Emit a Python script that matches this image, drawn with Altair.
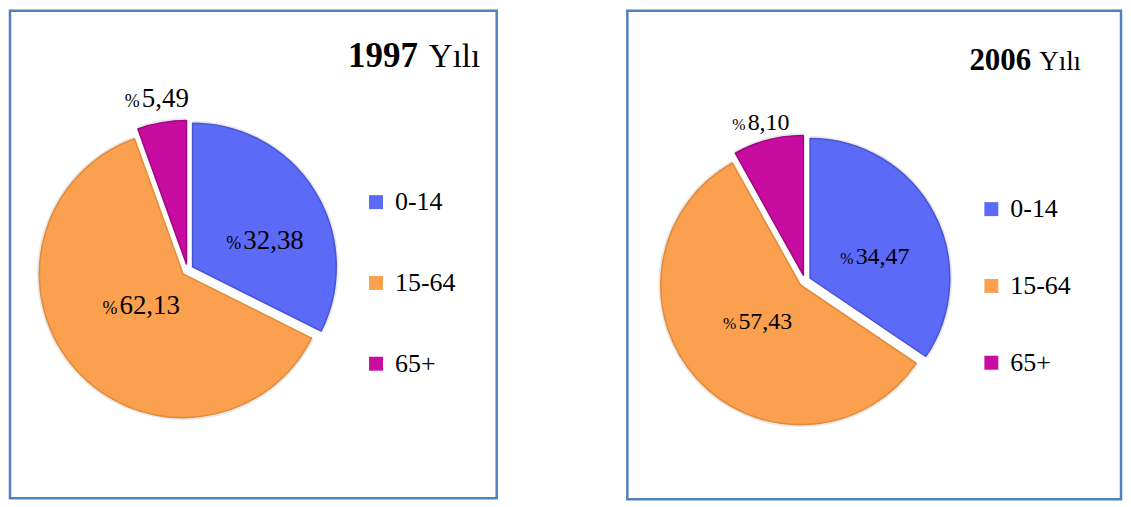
import altair as alt
import pandas as pd

groups = ["0-14", "15-64", "65+"]
share_1997 = [32.38, 62.13, 5.49]
share_2006 = [34.47, 57.43, 8.10]
text_1997 = ["32,38", "62,13", "5,49"]
text_2006 = ["34,47", "57,43", "8,10"]
years = ["1997", "2006"]
year_word = "Yılı"
colors = ["#5B6AF7", "#FAA04E", "#C80CA1"]
rim_colors = ["#4A56D8", "#E48B3C", "#A2087F"]

FONT = "Liberation Serif, Times New Roman, DejaVu Serif, serif"
BORDER = "#4F81BD"


def text_width(s, size):
    return sum(0.25 if ch == "," else 0.5 for ch in s) * size


def panel(values, texts, year, st):
    df = pd.DataFrame({"group": groups, "share": values, "txt": texts, "order": [0, 1, 2]})
    cx, cy = st["center"]
    e = st["explode"]
    base = (
        alt.Chart(df)
        .transform_joinaggregate(total="sum(share)")
        .transform_window(cum="sum(share)", sort=[alt.SortField("order")])
        .transform_calculate(
            start="2*PI*(datum.cum - datum.share)/datum.total",
            end="2*PI*datum.cum/datum.total",
            mid="2*PI*(datum.cum - datum.share/2)/datum.total",
        )
        .transform_calculate(
            ex=f"{cx} + {e}*sin(datum.mid)",
            ey=f"{cy} - {e}*cos(datum.mid)",
        )
    )
    color = alt.Color(
        "group:N",
        scale=alt.Scale(domain=groups, range=colors),
        legend=alt.Legend(
            orient="none", legendX=st["legX"], legendY=st["legY"], title=None,
            symbolType="square", symbolSize=196, symbolStrokeWidth=0, symbolOpacity=1,
            labelFont=FONT, labelFontSize=st["leg_size"], labelColor="black",
            labelOffset=st["labOff"], rowPadding=st["rowPad"], padding=0,
        ),
    )
    pos = dict(
        theta=alt.Theta("start:Q", scale=None),
        theta2="end:Q",
        x=alt.X("ex:Q", scale=None, axis=None),
        y=alt.Y("ey:Q", scale=None, axis=None),
    )
    shadow = base.mark_arc(radius=st["R"] + 2.5, color="#9a9a9a", opacity=0.22).encode(**pos)
    arcs = base.mark_arc(radius=st["R"], strokeWidth=1.6, strokeJoin="round").encode(
        color=color,
        stroke=alt.Stroke("group:N", scale=alt.Scale(domain=groups, range=rim_colors), legend=None),
        **pos,
    )
    layers = [shadow, arcs]
    for i, g in enumerate(groups):
        r, dx, dy = st["labels"][i]
        numw = text_width(texts[i], st["num_size"])
        pw = 0.833 * st["pct_size"]
        gap = 2
        W = pw + gap + numw
        base_dy = dy + 0.33 * st["num_size"]
        sel = base.transform_filter(alt.datum.group == g)
        enc = dict(theta=alt.Theta("mid:Q", scale=None), x=alt.value(cx), y=alt.value(cy))
        layers.append(
            sel.mark_text(radius=r, font=FONT, fontSize=st["pct_size"], align="left",
                          baseline="alphabetic", dx=dx - W / 2, dy=base_dy, color="black")
            .encode(text=alt.value("%"), **enc)
        )
        layers.append(
            sel.mark_text(radius=r, font=FONT, fontSize=st["num_size"], align="left",
                          baseline="alphabetic", dx=dx - W / 2 + pw + gap, dy=base_dy, color="black")
            .encode(text="txt:N", **enc)
        )
    tdf = pd.DataFrame({"year": [year], "word": [year_word]})
    tx, ty = st["title_pos"]
    layers.append(
        alt.Chart(tdf).mark_text(font=FONT, fontSize=st["title_size"], fontWeight="bold",
                                 align="left", baseline="alphabetic", color="black")
        .encode(text="year:N", x=alt.value(tx), y=alt.value(ty))
    )
    layers.append(
        alt.Chart(tdf).mark_text(font=FONT, fontSize=st["word_size"], align="left",
                                 baseline="alphabetic", color="black")
        .encode(text="word:N", x=alt.value(st["word_x"]), y=alt.value(ty))
    )
    return alt.layer(*layers).properties(width=st["w"], height=st["h"])


st1 = dict(center=(178, 260), R=144, explode=6,
           labels=[(82, 8, 13), (58, -3, -3), (173, -1, -2)],
           num_size=27, pct_size=18, legX=354, legY=179, leg_size=26, rowPad=55, labOff=6,
           title_pos=(339, 56), title_size=35, word_x=420, word_size=33, w=488, h=489)
st2 = dict(center=(178, 271), R=140, explode=6,
           labels=[(75, 4, 10), (61.5, -2, -1), (163, -3, -2)],
           num_size=24, pct_size=16, legX=352, legY=186, leg_size=26, rowPad=51, labOff=6,
           title_pos=(343, 60), title_size=31, word_x=413, word_size=27, w=495, h=490)

chart = (
    alt.hconcat(
        panel(share_1997, text_1997, years[0], st1),
        panel(share_2006, text_2006, years[1], st2),
        spacing=127,
    )
    .resolve_scale(color="independent", stroke="independent")
    .properties(padding=0, background="white")
    .configure_view(stroke=BORDER, strokeWidth=2.5)
)

chart.save("out.html", embed_options={"renderer": "svg", "actions": False})
